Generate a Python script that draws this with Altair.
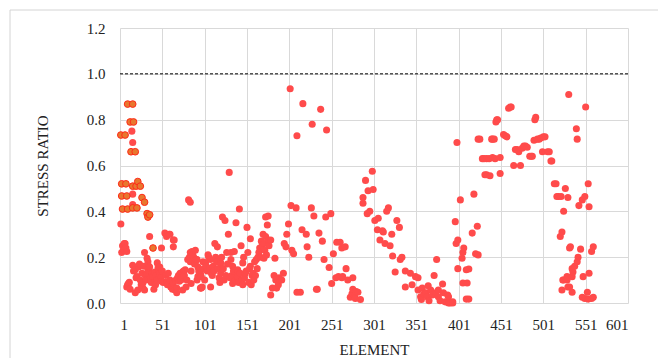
import altair as alt
import pandas as pd

# Ordinary elements (red)
elements = [
    2, 3, 4, 5, 6, 7, 8, 9, 9, 10, 11, 12, 13, 15, 16, 16, 16, 16, 17, 19, 19, 20, 21, 22, 23, 24, 25, 26, 27, 28, 28, 29,
    30, 30, 31, 32, 33, 33, 34, 34, 35, 36, 36, 37, 38, 39, 40, 41, 42, 42, 43, 44, 45, 45, 46, 47, 48, 48, 49, 50, 50,
    51, 52, 54, 55, 56, 56, 57, 58, 59, 60, 60, 61, 62, 63, 64, 64, 64, 65, 66, 67, 68, 68, 69, 70, 71, 72, 73, 74, 75, 75,
    76, 77, 78, 79, 80, 81, 82, 83, 84, 84, 84, 85, 85, 86, 87, 88, 89, 90, 90, 91, 92, 92, 93, 93, 94, 95, 96, 96, 97, 97,
    98, 99, 100,
    101, 102, 103, 104, 105, 106, 107, 108, 108, 109, 110, 111, 112, 113, 114, 115, 116, 117, 118, 119, 120, 120, 121, 122,
    123, 124, 125, 126, 127, 128, 129, 130, 131, 132, 132, 133, 134, 134, 135, 136, 137, 138, 139, 140, 140, 141, 142, 143,
    144, 145, 146, 146, 147, 148, 149, 150, 151, 152, 153, 154, 155, 155, 156, 157, 158, 159, 160, 161, 162, 163, 164, 165,
    166, 167, 168, 169, 170, 171, 171, 172, 173, 173, 174,
    175, 176, 176, 177, 179, 179, 181, 183, 184, 185, 186, 186, 188, 189, 190, 192, 194, 195, 197, 198, 200, 202, 203, 204,
    206, 209, 210, 210, 214, 216, 217, 221, 222, 224, 227, 228, 230, 233, 234, 236, 238, 240, 242, 244, 245, 248, 250, 251,
    253, 256, 257, 259, 261, 263, 263, 264,
    267, 268, 270, 273, 275, 276, 276, 278, 279, 280, 282, 285, 288, 288, 291, 293, 294, 296, 299, 300,
    302, 305, 306, 308, 311, 312, 314, 316, 318, 320, 322, 323, 326, 328, 331, 332, 334, 338, 338, 344, 346, 350, 353, 353,
    356, 357, 358, 360, 362, 364, 365, 366, 368, 370, 372, 374, 375, 377, 377, 379, 382, 383, 385, 388, 389, 389, 391, 394,
    394,
    397, 398, 399, 400, 400, 403, 405, 406, 406, 407, 410, 410, 411, 413, 413, 417, 419, 421, 423, 424, 424, 426, 429, 431,
    432, 434, 434, 437, 438, 440, 441, 441, 443, 444, 445,
    446, 447, 450, 450, 454, 456, 458, 460, 462, 463, 466, 468, 470, 472, 474, 476, 478, 480, 482, 485, 487, 488, 490, 491,
    492, 494, 496, 498, 500, 501, 503, 506, 508, 510, 511,
    514, 516, 517, 519, 521, 522, 523, 523, 524, 525, 525, 527, 529, 529, 530, 530, 531, 532, 532, 533, 535, 535, 535, 536,
    538, 540, 541, 541, 542, 543, 545, 547, 547, 548, 550, 550, 551, 553, 554, 554, 555, 555, 558, 558, 560, 560,
]
ratios = [
    0.345, 0.22, 0.25, 0.23, 0.26, 0.26, 0.24, 0.225, 0.07, 0.08, 0.085, 0.09, 0.06, 0.75, 0.70, 0.475, 0.43, 0.165, 0.14,
    0.145, 0.045, 0.11, 0.115, 0.057, 0.157, 0.17, 0.10, 0.08, 0.13, 0.065, 0.087, 0.16,
    0.22, 0.057, 0.12, 0.10, 0.195, 0.13, 0.18, 0.145, 0.16, 0.157, 0.29, 0.11, 0.09, 0.13, 0.115, 0.06, 0.135, 0.09, 0.08,
    0.12, 0.175, 0.10, 0.155, 0.14, 0.13, 0.157, 0.11, 0.24, 0.095,
    0.14, 0.09, 0.305, 0.12, 0.09, 0.29, 0.08, 0.13, 0.30, 0.30, 0.10, 0.07, 0.07, 0.06, 0.275, 0.245, 0.087, 0.275, 0.057,
    0.10, 0.065, 0.045, 0.11, 0.12, 0.095, 0.13, 0.10, 0.115, 0.135, 0.057,
    0.14, 0.12, 0.145, 0.07, 0.10, 0.19, 0.45, 0.20, 0.44, 0.22, 0.18, 0.085, 0.14, 0.225, 0.21, 0.20, 0.17, 0.23, 0.175,
    0.19, 0.19, 0.10, 0.157, 0.115, 0.14, 0.12, 0.13, 0.065, 0.115, 0.065,
    0.07, 0.18, 0.15,
    0.10, 0.175, 0.16, 0.14, 0.21, 0.20, 0.15, 0.19, 0.07, 0.13, 0.12, 0.16, 0.14, 0.26, 0.20, 0.18, 0.245, 0.15, 0.11, 0.09,
    0.175, 0.13, 0.20, 0.375,
    0.15, 0.10, 0.36, 0.12, 0.22, 0.17, 0.30, 0.57, 0.11, 0.22, 0.19, 0.12, 0.16, 0.085, 0.14, 0.225, 0.10, 0.35, 0.12,
    0.145, 0.115, 0.09, 0.41, 0.13,
    0.25, 0.10, 0.175, 0.08, 0.20, 0.11, 0.13, 0.14, 0.33, 0.22, 0.09, 0.15, 0.28, 0.16, 0.08, 0.12, 0.13, 0.10, 0.18, 0.12,
    0.19, 0.15, 0.20, 0.22,
    0.24, 0.20, 0.27, 0.25, 0.30, 0.26, 0.195, 0.23, 0.375, 0.29, 0.21,
    0.34, 0.38, 0.275, 0.25, 0.275, 0.035, 0.065, 0.12, 0.195, 0.10, 0.105, 0.065, 0.08, 0.11, 0.10, 0.10, 0.13, 0.26, 0.245,
    0.30, 0.345, 0.935, 0.425, 0.23,
    0.215, 0.415, 0.73, 0.047, 0.047, 0.32, 0.87, 0.30, 0.245, 0.20, 0.415, 0.78, 0.38, 0.06, 0.06, 0.305, 0.845, 0.27,
    0.19, 0.375, 0.755, 0.155, 0.39, 0.085,
    0.215, 0.11, 0.265, 0.115, 0.265, 0.24, 0.11, 0.115,
    0.245, 0.15, 0.10, 0.025, 0.04, 0.11, 0.06, 0.03, 0.02, 0.05, 0.047, 0.015, 0.46, 0.435, 0.535, 0.39, 0.49, 0.40,
    0.575, 0.495,
    0.36, 0.32, 0.37, 0.275, 0.315, 0.31, 0.26, 0.40, 0.415, 0.25, 0.30, 0.205, 0.135, 0.36, 0.33, 0.19, 0.20, 0.14, 0.07,
    0.13, 0.08, 0.115, 0.057, 0.11,
    0.027, 0.015, 0.065, 0.04, 0.045, 0.027, 0.075, 0.01, 0.057, 0.035, 0.12, 0.045, 0.19, 0.057, 0.027, 0.01, 0.083, 0.045,
    0.005, 0.035, 0.027, 0.0, 0.0, 0.005,
    0.0,
    0.355, 0.26, 0.70, 0.275, 0.15, 0.45, 0.195, 0.22, 0.087, 0.24, 0.145, 0.017, 0.087, 0.148, 0.017, 0.305, 0.475, 0.215,
    0.335, 0.21, 0.715, 0.715, 0.63, 0.63,
    0.56, 0.56, 0.63, 0.63, 0.555, 0.715, 0.715, 0.635, 0.715, 0.63, 0.79,
    0.80, 0.80, 0.635, 0.565, 0.735, 0.73, 0.725, 0.85, 0.855, 0.855, 0.60, 0.67, 0.67, 0.66, 0.60, 0.675, 0.685, 0.685,
    0.68, 0.64, 0.64, 0.64, 0.71, 0.80,
    0.81, 0.715, 0.715, 0.72, 0.66, 0.725, 0.725, 0.66, 0.66, 0.62, 0.62,
    0.52, 0.52, 0.465, 0.465, 0.29, 0.465, 0.31, 0.057, 0.10, 0.40, 0.10, 0.50, 0.115, 0.10, 0.46, 0.07, 0.91, 0.24, 0.07,
    0.245, 0.115, 0.15, 0.047, 0.135,
    0.16, 0.76, 0.715, 0.18, 0.20, 0.425, 0.235, 0.45, 0.025, 0.115, 0.465, 0.02, 0.855, 0.047, 0.52, 0.017, 0.42, 0.13,
    0.225, 0.02, 0.245, 0.025,
]

# Highlighted elements (orange with red outline)
hl_elements = [2, 7, 3, 8, 3, 9, 4, 10, 16, 21, 10, 16, 13, 17, 14, 19, 16, 20, 22, 25, 27, 30, 33, 34, 36, 40]
hl_ratios = [0.733, 0.733, 0.52, 0.52, 0.467, 0.467, 0.41, 0.41, 0.415, 0.415, 0.868, 0.868, 0.79, 0.79, 0.66, 0.66,
             0.51, 0.51, 0.53, 0.51, 0.46, 0.44, 0.39, 0.375, 0.385, 0.24]

x_ticks = [1, 51, 101, 151, 201, 251, 301, 351, 401, 451, 501, 551, 601]
y_ticks = [0.0, 0.2, 0.4, 0.6, 0.8, 1.0, 1.2]
limit = [1.0]

df = pd.DataFrame({"ELEMENT": elements, "RATIO": ratios})
dh = pd.DataFrame({"ELEMENT": hl_elements, "RATIO": hl_ratios})
dl = pd.DataFrame({"LIMIT": limit})

FONT = "Liberation Serif, Times New Roman, serif"

x = alt.X("ELEMENT:Q", title="ELEMENT",
          scale=alt.Scale(domain=[1, 601], nice=False, zero=False),
          axis=alt.Axis(values=x_ticks, grid=True, gridColor="#D9D9D9", domain=False, ticks=False,
                        labelFont=FONT, titleFont=FONT, labelFontSize=15, titleFontSize=15,
                        labelPadding=14, titlePadding=10, format="d"))
y = alt.Y("RATIO:Q", title="STRESS RATIO",
          scale=alt.Scale(domain=[0, 1.2], nice=False),
          axis=alt.Axis(values=y_ticks, grid=True, gridColor="#D9D9D9", domain=False, ticks=False,
                        labelFont=FONT, titleFont=FONT, labelFontSize=15, titleFontSize=15,
                        format=".1f", labelPadding=15, titlePadding=36))

border = alt.Chart(dl).mark_rect(fill="white", fillOpacity=0, stroke="#D4D4D4", strokeWidth=1).encode(
    x=alt.value(-110), x2=alt.value(543), y=alt.value(-18), y2=alt.value(336))

rule = alt.Chart(dl).mark_rule(color="black", strokeDash=[3, 2], strokeWidth=1).encode(
    y=alt.Y("LIMIT:Q", scale=alt.Scale(domain=[0, 1.2], nice=False)))

red = alt.Chart(df).mark_circle(size=50, color="#FF4B4B", opacity=1).encode(x=x, y=y)
orange = alt.Chart(dh).mark_point(shape="circle", size=45, filled=True, fill="#E8772E",
                                  stroke="#FF2A1A", strokeWidth=1, opacity=1).encode(
    x=alt.X("ELEMENT:Q"), y=alt.Y("RATIO:Q"))

chart = alt.layer(border, rule, red, orange).properties(
    width=508, height=275,
    autosize=alt.AutoSizeParams(type="none"),
    padding={"left": 112, "top": 20, "right": 30, "bottom": 55},
).configure_view(stroke=None).configure_axis(
    labelFont=FONT, titleFont=FONT, labelFontSize=15, titleFontSize=15,
    labelColor="#222222", titleColor="#222222", titleFontWeight="normal"
)

chart.save("out.html", embed_options={"renderer": "svg", "actions": False})
